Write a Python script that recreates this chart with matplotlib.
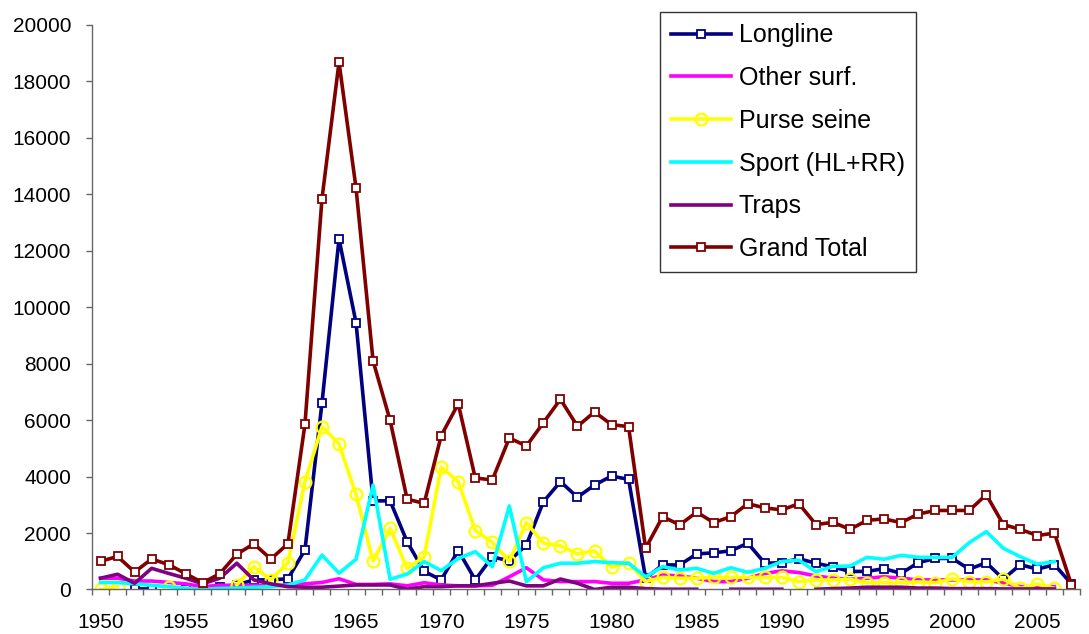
import numpy as np
import matplotlib
matplotlib.use('Agg')
import matplotlib.pyplot as plt

plt.rcParams['font.family'] = ['Liberation Sans', 'DejaVu Sans']

nan = np.nan
years = list(range(1950, 2008))

longline = [nan, nan, 20, 20, nan, 20, nan, 100, 160, 340,
            340, 380, 1400, 6600, 12420, 9450, 3140, 3140, 1690, 640,
            340, 1380, 340, 1160, 1010, 1580, 3110, 3820, 3270, 3700,
            4020, 3900, 400, 870, 870, 1260, 1300, 1370, 1640, 930,
            950, 1090, 930, 800, 640, 640, 740, 570, 950, 1100,
            1100, 720, 950, 370, 880, 720, 880, 200]

other_surf = [400, 400, 300, 300, 250, 200, 100, 150, 150, 150,
              150, 150, 200, 250, 380, 180, 180, 200, 130, 240,
              160, 130, 130, 150, 450, 770, 340, 280, 280, 280,
              220, 220, 340, 510, 480, 400, 280, 280, 400, 570,
              660, 600, 480, 400, 360, 400, 450, 400, 340, 340,
              340, 340, 340, 230, 100, 100, 100, nan]

purse_seine = [0, 100, nan, nan, 100, nan, nan, nan, 170, 810,
               340, 950, 3820, 5770, 5160, 3370, 1010, 2170, 750, 1160,
               4340, 3820, 2090, 1670, 1010, 2370, 1640, 1550, 1260, 1370,
               790, 950, 280, 430, 400, 400, 430, 430, 430, 430,
               430, 280, 340, 340, 360, 240, 240, 240, 270, 240,
               380, 270, 270, 370, 40, 190, 40, nan]

sport = [250, 250, 200, 150, 100, 50, 0, 40, 50, 80,
         100, 160, 340, 1220, 580, 1070, 3700, 360, 550, 990,
         670, 1100, 1340, 810, 2960, 280, 770, 930, 930, 990,
         950, 930, 450, 810, 690, 750, 570, 770, 610, 750,
         990, 1040, 630, 820, 830, 1140, 1070, 1210, 1140, 1140,
         1140, 1660, 2050, 1460, 1160, 900, 990, nan]

traps = [400, 540, 220, 750, 570, 400, 200, 400, 930, 340,
         200, 100, 80, 80, 120, 160, 160, 160, 10, 100,
         100, 130, 130, 220, 300, 130, 130, 370, 220, 0,
         80, 80, 30, 10, 10, 10, nan, 10, 10, 10,
         10, nan, 10, 30, 50, 80, 80, 80, 50, 50,
         30, 30, 30, 20, 20, 20, 20, nan]

grand_total = [1000, 1170, 620, 1080, 880, 560, 240, 560, 1250, 1620,
               1080, 1620, 5850, 13840, 18680, 14220, 8100, 5990, 3200, 3050,
               5450, 6580, 3950, 3880, 5370, 5080, 5910, 6740, 5780, 6290,
               5840, 5770, 1460, 2580, 2290, 2740, 2370, 2580, 3040, 2890,
               2820, 3040, 2300, 2380, 2130, 2450, 2500, 2370, 2670, 2800,
               2800, 2800, 3360, 2300, 2130, 1910, 2000, 170]

fig = plt.figure(figsize=(10.89, 6.34), dpi=100)
ax = fig.add_axes([0.0845, 0.0702, 0.9072, 0.8904])

lw = 2.6
sq = dict(marker='s', markersize=5.5, markerfacecolor='white', markeredgewidth=1.3)

ax.plot(years, longline, color='#000080', lw=lw, label='Longline', **sq)
ax.plot(years, other_surf, color='#FF00FF', lw=lw, label='Other surf.')
ax.plot(years, purse_seine, color='#FFFF00', lw=lw, label='Purse seine',
        marker='o', markersize=8.5, markerfacecolor='none', markeredgewidth=1.6)
ax.plot(years, sport, color='#00FFFF', lw=lw, label='Sport (HL+RR)')
ax.plot(years, traps, color='#800080', lw=lw, label='Traps')
ax.plot(years, grand_total, color='#800000', lw=lw, label='Grand Total', **sq)

ax.set_xlim(1949.5, 2007.5)
ax.set_ylim(0, 20000)
ax.set_yticks(range(0, 20001, 2000))
ax.set_xticks(range(1950, 2006, 5))
ax.set_xticks(np.arange(1949.5, 2008, 1), minor=True)

for s in ['top', 'right']:
    ax.spines[s].set_visible(False)
for s in ['left', 'bottom']:
    ax.spines[s].set_color('#666666')
    ax.spines[s].set_linewidth(1.0)

ax.tick_params(axis='y', which='major', direction='out', length=4, width=1,
               color='#666666', pad=11, labelsize=15)
ax.tick_params(axis='x', which='major', length=0, pad=17, labelsize=15)
ax.tick_params(axis='x', which='minor', direction='out', length=4, width=1,
               color='#666666')

leg = ax.legend(loc='upper left', bbox_to_anchor=(660 / 1089, 1 - 12 / 634),
                bbox_transform=fig.transFigure, borderaxespad=0,
                fontsize=18, frameon=True, fancybox=False, edgecolor='black',
                handlelength=2.4, handletextpad=0.3, labelspacing=0.75,
                borderpad=0.45, numpoints=1)
leg.get_frame().set_linewidth(1.0)

fig.savefig('out.png', dpi=100)
